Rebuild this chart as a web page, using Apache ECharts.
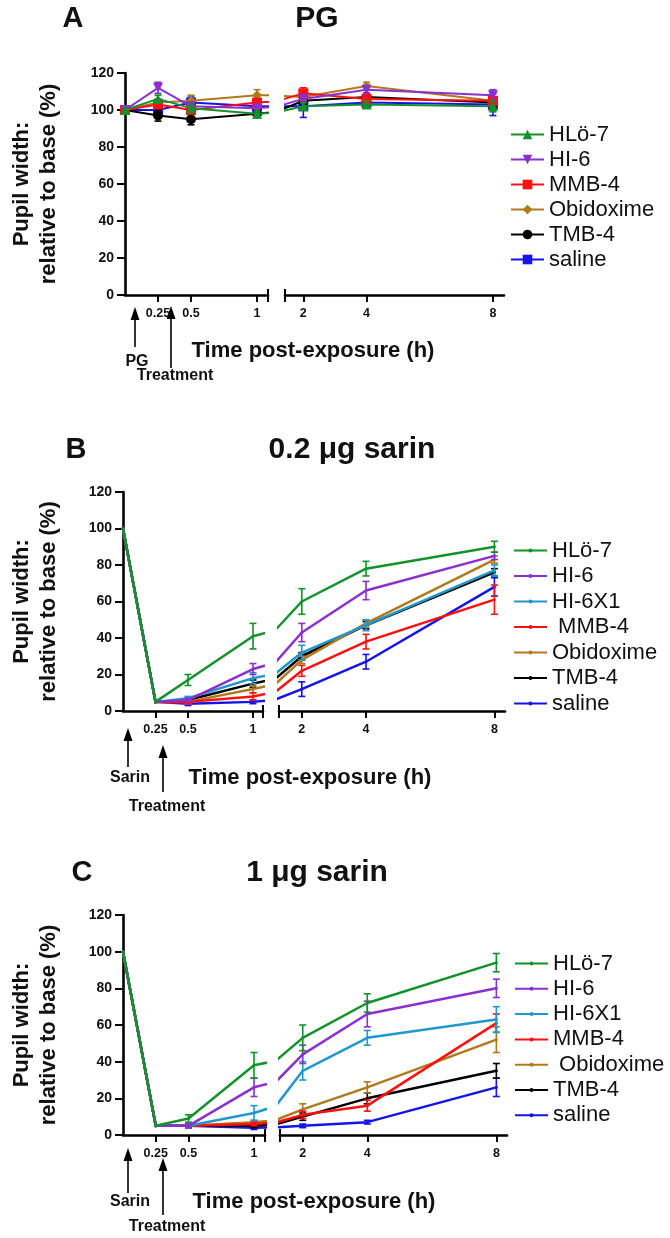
<!DOCTYPE html>
<html><head><meta charset="utf-8">
<script src="https://cdn.jsdelivr.net/npm/echarts@6/dist/echarts.min.js"></script>
<style>
html,body{margin:0;padding:0;background:#fff;}
#wrap{position:relative;width:670px;height:1238px;background:#fff;}
.panel{position:absolute;left:0;width:670px;}
</style></head><body>
<div id="wrap">
<div id="pA" class="panel" style="top:0;height:400px"></div>
<div id="pB" class="panel" style="top:400px;height:420px"></div>
<div id="pC" class="panel" style="top:820px;height:418px"></div>
</div>
<script>
// ---------------- data ----------------
const times = [0, 0.25, 0.5, 1, 2, 4, 8];
const xTicksLeft = [0.25, 0.5, 1];
const xTicksRight = [2, 4, 8];
const yMin = 0, yMax = 120, yStep = 20;

// Panel A: PG
const namesA = ['HLö-7', 'HI-6', 'MMB-4', 'Obidoxime', 'TMB-4', 'saline'];
const valuesA = [
  [100, 106, 101, 98, 102, 103, 102],
  [100, 112, 102, 101, 106, 111, 108],
  [100, 103, 100, 104, 109, 106, 105],
  [100, 104, 105, 108, 107, 113, 105],
  [100, 97, 95, 98, 105, 107, 104],
  [100, 100, 104, 102, 102, 104, 103]
];
const errorsA = [
  [0, 2, 2, 2, 2, 2, 3],
  [0, 3, 2, 2, 2, 2, 3],
  [0, 2, 2, 2, 3, 2, 2],
  [0, 2, 3, 3, 2, 2, 2],
  [0, 3, 3, 2, 2, 2, 2],
  [0, 3, 3, 2, 6, 2, 6]
];

// Panel B: 0.2 µg sarin
const namesB = ['HLö-7', 'HI-6', 'HI-6X1', ' MMB-4', 'Obidoxime', 'TMB-4', 'saline'];
const valuesB = [
  [100, 5, 17, 41, 60, 78, 90],
  [100, 5, 6, 23, 43, 66, 85],
  [100, 5, 7, 18, 32, 47, 77],
  [100, 5, 5, 8, 22, 38, 61],
  [100, 5, 5, 12, 28, 48, 83],
  [100, 5, 6, 15, 30, 47, 76],
  [100, 5, 4, 5, 12, 27, 68]
];
const errorsB = [
  [0, 0, 3, 7, 7, 4, 3],
  [0, 0, 1, 3, 5, 5, 2],
  [0, 0, 1, 3, 4, 3, 3],
  [0, 0, 1, 2, 3, 4, 8],
  [0, 0, 1, 2, 2, 2, 2],
  [0, 0, 1, 2, 2, 2, 2],
  [0, 0, 1, 1, 4, 4, 5]
];

// Panel C: 1 µg sarin
const namesC = ['HLö-7', 'HI-6', 'HI-6X1', 'MMB-4', ' Obidoxime', 'TMB-4', 'saline'];
const valuesC = [
  [100, 5, 9, 38, 53, 72, 94],
  [100, 5, 5, 26, 44, 66, 80],
  [100, 5, 5, 12, 35, 53, 63],
  [100, 5, 5, 6, 11, 16, 61],
  [100, 5, 5, 7, 14, 26, 52],
  [100, 5, 5, 5, 10, 20, 35],
  [100, 5, 5, 4, 5, 7, 26]
];
const errorsC = [
  [0, 0, 2, 7, 7, 5, 5],
  [0, 0, 1, 5, 5, 7, 5],
  [0, 0, 1, 4, 5, 4, 7],
  [0, 0, 1, 1, 2, 3, 5],
  [0, 0, 1, 1, 3, 3, 7],
  [0, 0, 1, 1, 2, 3, 4],
  [0, 0, 1, 1, 1, 1, 5]
];

// ---------------- styles ----------------
const FONT = '"Liberation Sans", Arial, sans-serif';
const COL = {
  green: '#12922a', purple: '#8a2fd0', teal: '#2098cc', red: '#ff1010',
  brown: '#b07a1c', black: '#000000', blue: '#1414e8'
};
const colorsA = [COL.green, COL.purple, COL.red, COL.brown, COL.black, COL.blue];
const symbolsA = ['triangle', 'triangle', 'rect', 'diamond', 'circle', 'rect'];
const rotA = [0, 180, 0, 0, 0, 0];
const colorsBC = [COL.green, COL.purple, COL.teal, COL.red, COL.brown, COL.black, COL.blue];

function errRender(params, api) {
  const x = api.value(0), y = api.value(1), e = api.value(2);
  const t = api.coord([x, y + e]), b = api.coord([x, y - e]);
  const w = 3.5;
  const st = { stroke: api.visual('color'), lineWidth: 1.6 };
  return { type: 'group', children: [
    { type: 'line', shape: { x1: t[0], y1: t[1], x2: b[0], y2: b[1] }, style: st },
    { type: 'line', shape: { x1: t[0] - w, y1: t[1], x2: t[0] + w, y2: t[1] }, style: st },
    { type: 'line', shape: { x1: b[0] - w, y1: b[1], x2: b[0] + w, y2: b[1] }, style: st }
  ]};
}

function arrow(x, yTop, yBot) {
  return { type: 'group', children: [
    { type: 'polygon', shape: { points: [[x, yTop], [x - 4.5, yTop + 13], [x + 4.5, yTop + 13]] }, style: { fill: '#000' } },
    { type: 'line', shape: { x1: x, y1: yTop + 10, x2: x, y2: yBot }, style: { stroke: '#000', lineWidth: 1.6 } }
  ]};
}
function txt(x, y, s, size, weight, extra) {
  return Object.assign({ type: 'text', x: x, y: y, style: { text: s, fontFamily: FONT, fontSize: size, fontWeight: weight || 'bold', fill: '#111', align: 'center', verticalAlign: 'middle' } }, extra || {});
}

function buildPanel(el, cfg) {
  const chart = echarts.init(document.getElementById(el), null, { renderer: 'canvas' });
  const axisLineStyle = { color: '#000', width: 2.6 };
  const labelStyle = { color: '#111', fontFamily: FONT, fontWeight: 'bold', fontSize: 12.5, margin: 12 };
  const tickStyle = { color: '#000', width: 2 };
  const grids = [cfg.gl, cfg.gr];
  const xAxis = [
    { gridIndex: 0, type: 'value', min: 0, max: cfg.xl[1], position: 'bottom',
      axisLine: { show: true, lineStyle: axisLineStyle, onZero: false },
      axisTick: { show: true, length: 7, lineStyle: tickStyle, customValues: xTicksLeft.concat([cfg.xl[1]]) },
      axisLabel: Object.assign({ customValues: xTicksLeft, formatter: v => String(v) }, labelStyle),
      splitLine: { show: false } },
    { gridIndex: 1, type: 'value', min: cfg.xr[0], max: cfg.xr[1], position: 'bottom',
      axisLine: { show: true, lineStyle: axisLineStyle, onZero: false },
      axisTick: { show: true, length: 7, lineStyle: tickStyle, customValues: [cfg.xr[0]].concat(xTicksRight) },
      axisLabel: Object.assign({ customValues: xTicksRight, formatter: v => String(v) }, labelStyle),
      splitLine: { show: false } },
    // inward caps at the axis break
    { gridIndex: 0, type: 'value', min: 0, max: cfg.xl[1], position: 'bottom',
      axisLine: { show: false },
      axisTick: { show: true, inside: true, length: 6, lineStyle: tickStyle, customValues: [cfg.xl[1]] },
      axisLabel: { show: false }, splitLine: { show: false } },
    { gridIndex: 1, type: 'value', min: cfg.xr[0], max: cfg.xr[1], position: 'bottom',
      axisLine: { show: false },
      axisTick: { show: true, inside: true, length: 6, lineStyle: tickStyle, customValues: [cfg.xr[0]] },
      axisLabel: { show: false }, splitLine: { show: false } }
  ];
  const yAxis = [
    { gridIndex: 0, type: 'value', min: yMin, max: yMax, interval: yStep,
      axisLine: { show: true, lineStyle: axisLineStyle },
      axisTick: { show: true, length: 8, lineStyle: tickStyle },
      axisLabel: { color: '#111', fontFamily: FONT, fontWeight: 'bold', fontSize: 14, margin: 11 },
      splitLine: { show: false } },
    { gridIndex: 1, type: 'value', min: yMin, max: yMax, interval: yStep, show: false, splitLine: { show: false } }
  ];
  const series = [];
  const n = cfg.names.length;
  for (let gi = 0; gi < 2; gi++) {
    for (let k = n - 1; k >= 0; k--) {
      const data = times.map((t, i) => [t, cfg.values[k][i]]);
      series.push({
        type: 'line', name: cfg.names[k], xAxisIndex: gi, yAxisIndex: gi,
        data: data, clip: true, animation: false,
        symbol: cfg.symbols ? cfg.symbols[k] : 'circle',
        symbolRotate: cfg.rot ? cfg.rot[k] : 0,
        symbolSize: cfg.symbolSize, showSymbol: true,
        itemStyle: { color: cfg.colors[k] },
        lineStyle: { color: cfg.colors[k], width: cfg.lineWidth },
        z: 3 + (n - k) * 0.01
      });
      const errData = [];
      times.forEach((t, i) => {
        const inRange = gi === 0 ? t <= cfg.xl[1] : t >= cfg.xr[0];
        if (inRange && cfg.errors[k][i] > 0) errData.push([t, cfg.values[k][i], cfg.errors[k][i]]);
      });
      series.push({
        type: 'custom', name: 'err' + k, xAxisIndex: gi, yAxisIndex: gi,
        renderItem: errRender, data: errData, animation: false,
        itemStyle: { color: cfg.colors[k] }, z: 3 + (n - k) * 0.01, silent: true
      });
    }
  }
  const plotMid = cfg.gl.top + cfg.gl.height / 2;
  const graphic = [
    txt(cfg.letter[1], cfg.letter[2], cfg.letter[0], 29, 'bold'),
    txt(cfg.title[1], cfg.title[2], cfg.title[0], 30, 'bold'),
    txt(35, plotMid, 'Pupil width:\nrelative to base (%)', 22, 'bold', { rotation: Math.PI / 2 }),
    txt(cfg.xtitle[0], cfg.xtitle[1], 'Time post-exposure (h)', 22, 'bold'),
    arrow(cfg.a1[0], cfg.a1[1], cfg.a1[2]),
    txt(cfg.a1[0] + 2, cfg.a1[3], cfg.a1[4], 16, 'bold'),
    arrow(cfg.a2[0], cfg.a2[1], cfg.a2[2]),
    txt(cfg.a2[0] + 4, cfg.a2[3], cfg.a2[4], 16, 'bold')
  ];
  graphic[2].style.lineHeight = 27;
  graphic.forEach(g => { g.z = 100; });
  chart.setOption({
    animation: false,
    backgroundColor: '#fff',
    grid: grids,
    xAxis: xAxis, yAxis: yAxis,
    legend: {
      orient: 'vertical', left: cfg.legend[0], top: cfg.legend[1], padding: 0,
      itemWidth: 33, itemHeight: cfg.legendIconH, itemGap: cfg.legend[2],
      selectedMode: false, data: cfg.names,
      textStyle: { fontFamily: FONT, fontSize: 22, color: '#111', lineHeight: 21 }
    },
    series: series,
    graphic: graphic
  });
  return chart;
}

buildPanel('pA', {
  names: namesA, values: valuesA, errors: errorsA, colors: colorsA,
  symbols: symbolsA, rot: rotA, symbolSize: 10, lineWidth: 2,
  gl: { left: 125, top: 73, width: 143, height: 222 }, xl: [0, 1.083],
  gr: { left: 285, top: 73, width: 219, height: 222 }, xr: [1.42, 8.35],
  legend: [510, 123.5, 3], legendIconH: 12,
  letter: ['A', 73, 19], title: ['PG', 317, 19],
  xtitle: [313, 351],
  a1: [135, 307, 347, 362, 'PG'], a2: [171, 306, 368, 376, 'Treatment']
});
buildPanel('pB', {
  names: namesB, values: valuesB, errors: errorsB, colors: colorsBC,
  symbols: null, rot: null, symbolSize: 3, lineWidth: 2.5,
  gl: { left: 123, top: 92, width: 140, height: 219 }, xl: [0, 1.077],
  gr: { left: 279, top: 92, width: 226, height: 219 }, xr: [1.29, 8.33],
  legend: [513, 139.5, 3.5], legendIconH: 5,
  letter: ['B', 76, 50], title: ['0.2 μg sarin', 352, 50],
  xtitle: [310, 378],
  a1: [128, 328, 367, 378, 'Sarin'], a2: [163, 345, 392, 407, 'Treatment']
});
buildPanel('pC', {
  names: namesC, values: valuesC, errors: errorsC, colors: colorsBC,
  symbols: null, rot: null, symbolSize: 3, lineWidth: 2.5,
  gl: { left: 123, top: 95, width: 142, height: 220 }, xl: [0, 1.084],
  gr: { left: 280, top: 95, width: 227, height: 220 }, xr: [1.295, 8.33],
  legend: [514, 132.5, 3.3], legendIconH: 5,
  letter: ['C', 82, 53], title: ['1 μg sarin', 317, 53],
  xtitle: [314, 382],
  a1: [128, 328, 373, 382, 'Sarin'], a2: [163, 338, 395, 407, 'Treatment']
});
</script>
</body></html>
